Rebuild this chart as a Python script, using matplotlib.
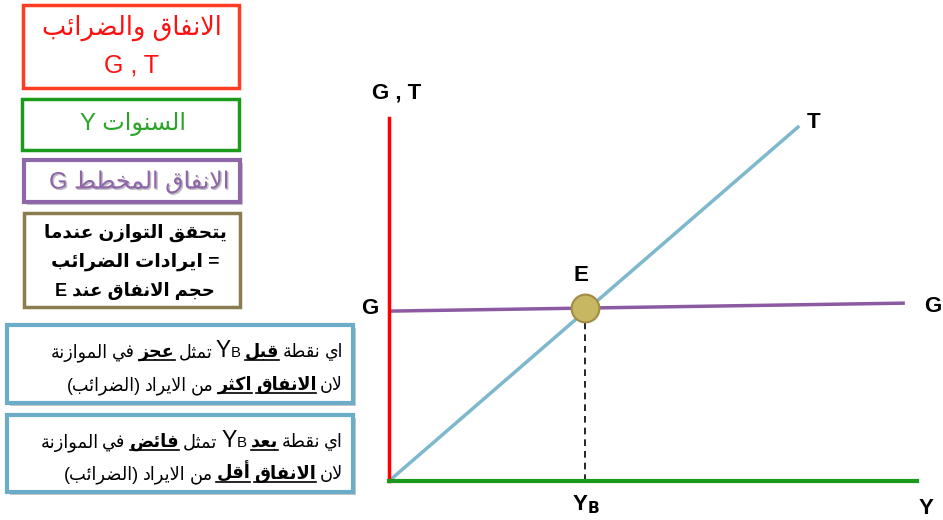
import re
import matplotlib
matplotlib.use('Agg')
import matplotlib.pyplot as plt
from matplotlib.patches import Rectangle
import matplotlib.patheffects as pe

# chart values: income Y on the x axis, G and T on the y axis
t_line_y = [0.0, 7.77]
t_line_gt = [0.0, 9.78]
g_line_y = [0.0, 9.77]
g_line_gt = [4.68, 4.90]
eq_y = 3.72
eq_gt = 4.77
axis_max = 10.0

# side notes
box1_lines = ['الانفاق والضرائب', 'G , T']
box2_text = 'السنوات Y'
box3_text = 'الانفاق المخطط G'
box4_lines = ['يتحقق التوازن عندما', '= ايرادات الضرائب', 'حجم الانفاق عند E']
# (word, bold + underlined)
box5_lines = [
    [('اي', 0), ('نقطة', 0), ('قبل', 1), ('YB', 0), ('تمثل', 0), ('عجز', 1), ('في', 0), ('الموازنة', 0)],
    [('لان', 0), ('الانفاق', 1), ('اكثر', 1), ('من', 0), ('الايراد', 0), ('(الضرائب)', 0)],
]
box6_lines = [
    [('اي', 0), ('نقطة', 0), ('بعد', 1), ('YB', 0), ('تمثل', 0), ('فائض', 1), ('في', 0), ('الموازنة', 0)],
    [('لان', 0), ('الانفاق', 1), ('أقل', 1), ('من', 0), ('الايراد', 0), ('(الضرائب)', 0)],
]

FONTS = ['Liberation Sans', 'DejaVu Sans']

# arabic presentation forms: first codepoint, number of forms
FORMS = {
    0x0621: (0xFE80, 1), 0x0622: (0xFE81, 2), 0x0623: (0xFE83, 2), 0x0624: (0xFE85, 2),
    0x0625: (0xFE87, 2), 0x0626: (0xFE89, 4), 0x0627: (0xFE8D, 2), 0x0628: (0xFE8F, 4),
    0x0629: (0xFE93, 2), 0x062A: (0xFE95, 4), 0x062B: (0xFE99, 4), 0x062C: (0xFE9D, 4),
    0x062D: (0xFEA1, 4), 0x062E: (0xFEA5, 4), 0x062F: (0xFEA9, 2), 0x0630: (0xFEAB, 2),
    0x0631: (0xFEAD, 2), 0x0632: (0xFEAF, 2), 0x0633: (0xFEB1, 4), 0x0634: (0xFEB5, 4),
    0x0635: (0xFEB9, 4), 0x0636: (0xFEBD, 4), 0x0637: (0xFEC1, 4), 0x0638: (0xFEC5, 4),
    0x0639: (0xFEC9, 4), 0x063A: (0xFECD, 4), 0x0641: (0xFED1, 4), 0x0642: (0xFED5, 4),
    0x0643: (0xFED9, 4), 0x0644: (0xFEDD, 4), 0x0645: (0xFEE1, 4), 0x0646: (0xFEE5, 4),
    0x0647: (0xFEE9, 4), 0x0648: (0xFEED, 2), 0x0649: (0xFEEF, 2), 0x064A: (0xFEF1, 4),
}
LAMALEF = {0x0622: 0xFEF5, 0x0623: 0xFEF7, 0x0625: 0xFEF9, 0x0627: 0xFEFB}


def shape(s):
    out = []
    prev_joins = False
    i = 0
    while i < len(s):
        f = FORMS.get(ord(s[i]))
        if f is None:
            out.append(s[i])
            prev_joins = False
            i += 1
            continue
        base, k = f
        if ord(s[i]) == 0x0644 and i + 1 < len(s) and ord(s[i + 1]) in LAMALEF:
            out.append(chr(LAMALEF[ord(s[i + 1])] + (1 if prev_joins else 0)))
            prev_joins = False
            i += 2
            continue
        nxt = FORMS.get(ord(s[i + 1])) if i + 1 < len(s) else None
        join_next = k == 4 and nxt is not None and nxt[1] >= 2
        join_prev = prev_joins and k >= 2
        out.append(chr(base + (2 if join_next else 0) + (1 if join_prev else 0)))
        prev_joins = k == 4
        i += 1
    return ''.join(out)


def mirror(s):
    return s.translate(str.maketrans('()', ')('))


LATIN = re.compile(r'([A-Za-z](?:[A-Za-z ,]*[A-Za-z])?)')


def visual(s):
    parts = LATIN.split(s)
    out = []
    for k, p in enumerate(parts):
        out.append(p if k % 2 else mirror(shape(p)[::-1]))
    return ''.join(out[::-1])


fig = plt.figure(figsize=(9.43, 5.2), dpi=100)
renderer = fig.canvas.get_renderer()

# overlay in pixel units for the note boxes
ax0 = fig.add_axes([0, 0, 1, 1])
ax0.set_xlim(0, 943)
ax0.set_ylim(520, 0)
ax0.axis('off')


def box(x0, y0, x1, y1, color, lw=2.5, shadow=False):
    r = Rectangle((x0, y0), x1 - x0, y1 - y0, fill=True, facecolor='white',
                  edgecolor=color, linewidth=lw)
    if shadow:
        r.set_path_effects([pe.withSimplePatchShadow(offset=(2, -2), alpha=0.3)])
    ax0.add_patch(r)


def fit_text(x, y, s, width, size0=14, **kw):
    t = ax0.text(x, y, visual(s), fontsize=size0, family=FONTS, ha='center', va='center', **kw)
    w = t.get_window_extent(renderer).width
    t.set_fontsize(size0 * width / w)
    return t


box(23, 5, 239, 88, '#ff3c22')
fit_text(132, 28, box1_lines[0], 182, color='#ff1010')
ax0.text(132, 66, box1_lines[1], fontsize=18, family=FONTS, ha='center', va='center', color='#ff1010')

box(22, 99, 239, 150, '#1c9a1c')
fit_text(133, 124, box2_text, 107, color='#2aa52a')

box(24, 160, 240, 202, '#8d67a8', lw=3, shadow=True)
fit_text(139, 182, box3_text, 182, color='#8e65a8',
         path_effects=[pe.withSimplePatchShadow(offset=(1, -1), alpha=0.3)])

box(24, 213, 240, 307, '#8b7c50')
for line, yc, w in zip(box4_lines, [233, 262, 291], [184, 168, 160]):
    fit_text(135, yc, line, w, fontweight='bold', color='black')


def word_line(words, x_right, y, size, draw=True):
    x = x_right
    gap = size * 0.3
    arts = []
    for w, strong in words:
        if w == 'YB':
            for piece, sz in (('B', size * 0.85), ('Y', size * 1.3)):
                t = ax0.text(x, y, piece, fontsize=sz, family=FONTS, ha='right', va='baseline')
                arts.append(t)
                x -= t.get_window_extent(renderer).width
        else:
            t = ax0.text(x, y, visual(w), fontsize=size, family=FONTS, ha='right', va='baseline',
                         fontweight='bold' if strong else 'normal')
            arts.append(t)
            wd = t.get_window_extent(renderer).width
            if strong:
                arts += ax0.plot([x - wd, x], [y + 3, y + 3], color='black', lw=1.2)
            x -= wd
        x -= gap
    width = x_right - x - gap
    if not draw:
        for a in arts:
            a.remove()
    return width


def note_box(lines, y0, y1, baselines, target):
    box(7, y0, 353, y1, '#6badc9', lw=3, shadow=True)
    size = 11
    wd = word_line(lines[0], 343, baselines[0], size, draw=False)
    size = size * target / wd
    for words, b in zip(lines, baselines):
        word_line(words, 343, b, size)


note_box(box5_lines, 325, 403, [357, 390], 291)
note_box(box6_lines, 415, 492, [447, 479], 301)

# the chart itself
ax = fig.add_axes([389 / 943, 39 / 520, 528 / 943, 363 / 520])
ax.patch.set_alpha(0)
ax.set_xlim(0, axis_max)
ax.set_ylim(0, axis_max)
ax.set_xticks([])
ax.set_yticks([])
for side in ('top', 'right'):
    ax.spines[side].set_visible(False)
ax.spines['left'].set_color('#ff0000')
ax.spines['left'].set_linewidth(2.5)
ax.spines['bottom'].set_color('#1a9a1a')
ax.spines['bottom'].set_linewidth(3)

ax.plot(t_line_y, t_line_gt, color='#7db8cc', lw=2.5, solid_capstyle='butt')
ax.plot(g_line_y, g_line_gt, color='#8c5aa2', lw=2.5, solid_capstyle='butt')
ax.plot([eq_y, eq_y], [0, eq_gt], color='black', lw=1.2, dashes=(4, 3))
ax.plot([eq_y], [eq_gt], 'o', markersize=20, markerfacecolor='#c8b762',
        markeredgecolor='#a08c45', markeredgewidth=1.5)

lab = dict(fontsize=16, fontweight='bold', family=FONTS, ha='center', va='center', clip_on=False)
ax.text(0.15, 10.7, 'G , T', **lab)
ax.text(t_line_y[1] + 0.28, t_line_gt[1] + 0.1, 'T', **lab)
ax.text(eq_y - 0.09, eq_gt + 0.9, 'E', **lab)
ax.text(-0.36, g_line_gt[0] + 0.08, 'G', **lab)
ax.text(g_line_y[1] + 0.52, g_line_gt[1] - 0.1, 'G', **lab)
ax.text(eq_y, -0.65, r'Y$_\mathbf{B}$', **lab)
ax.text(10.18, -0.75, 'Y', **lab)

fig.savefig('out.png', dpi=100)
